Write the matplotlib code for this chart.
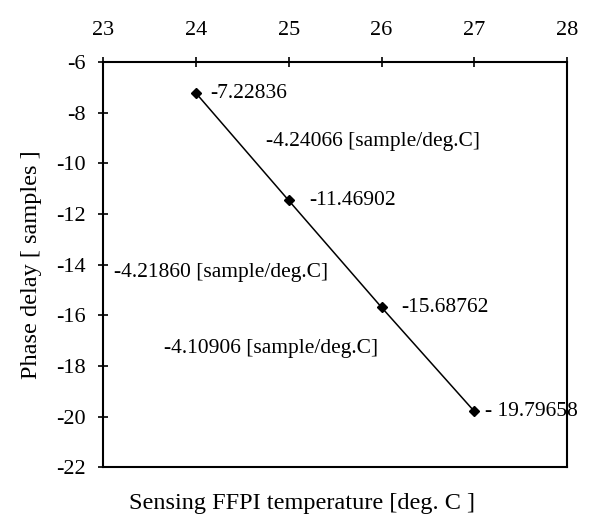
import matplotlib
matplotlib.use("Agg")
import matplotlib.pyplot as plt

temps = [24, 25, 26, 27]
delays = [-7.22836, -11.46902, -15.68762, -19.79658]
point_labels = ["-7.22836", "-11.46902", "-15.68762", "- 19.79658"]
label_offsets = [10, 15, 14, 8]
slope_labels = ["-4.24066 [sample/deg.C]", "-4.21860 [sample/deg.C]", "-4.10906 [sample/deg.C]"]
slope_pos = [(24.75, -9.16), (23.12, -14.3), (23.66, -17.3)]
xticks = [23, 24, 25, 26, 27, 28]
yticks = [-22, -20, -18, -16, -14, -12, -10, -8, -6]

plt.rcParams['font.family'] = ['Liberation Serif', 'DejaVu Serif']
plt.rcParams['axes.unicode_minus'] = False

fig = plt.figure(figsize=(5.89, 5.25), dpi=100)
ax = fig.add_axes([0.175, 0.110, 0.788, 0.772])
ax.plot(temps, delays, color='black', lw=1.1, marker='D', markersize=5.5,
        markerfacecolor='black', markeredgecolor='black')
ax.set_xlim(23, 28)
ax.set_ylim(-22, -6)
ax.set_xticks(xticks)
ax.set_yticks(yticks)
ax.xaxis.tick_top()
ax.tick_params(axis='both', direction='inout', length=7, width=1.2, labelsize=16, pad=9)
ax.tick_params(axis='x', top=True, bottom=False, pad=12)
for s in ax.spines.values():
    s.set_linewidth(1.5)

for x, y, t, off in zip(temps, delays, point_labels, label_offsets):
    ax.annotate(t, (x, y), xytext=(off, 0), textcoords='offset points',
                va='center', ha='left', fontsize=15.5)
for (x, y), t in zip(slope_pos, slope_labels):
    ax.text(x, y, t, fontsize=15.5, va='center', ha='left')

ax.set_ylabel("Phase delay [ samples ]", fontsize=17.5, labelpad=10)
fig.text(0.513, 0.03, "Sensing FFPI temperature [deg. C ]", fontsize=17.5, ha='center')

fig.savefig("out.png", dpi=100)
